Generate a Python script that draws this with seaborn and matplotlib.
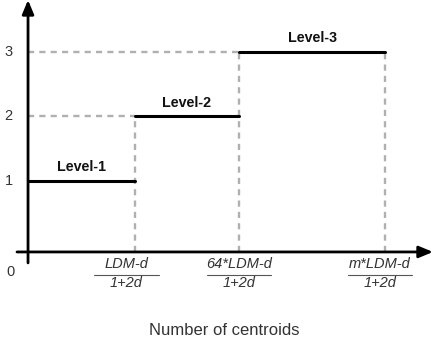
import numpy as np
import pandas as pd
import matplotlib
matplotlib.use("Agg")
import matplotlib.pyplot as plt
import seaborn as sns

# x breakpoints (origin + three thresholds) and the level of each step
breakpoints = [0, 1.0, 1.97, 3.34]
levels = [1, 2, 3]
level_names = ["Level-1", "Level-2", "Level-3"]
x_numerators = ["LDM-d", "64*LDM-d", "m*LDM-d"]
x_denominator = "1+2d"
x_label_nudge = [-0.08, 0.0, -0.05]
y_ticks = [0, 1, 2, 3]

sns.set_style("white")
plt.rcParams['font.family'] = ['Liberation Sans', 'DejaVu Sans']

fig = plt.figure(figsize=(4.38, 3.38), dpi=100)
ax = fig.add_axes([0, 0, 1, 1])
ax.set_xlim(-0.262, 3.832)
ax.set_ylim(-1.434, 3.806)
ax.axis("off")

axis_y = -0.1
guide = dict(color="#b0b0b0", lw=1.7, linestyle=(0, (2.6, 2.2)), zorder=1)

# dashed guide lines
for i, lev in enumerate(levels):
    x_start, x_end = breakpoints[i], breakpoints[i + 1]
    if i > 0:
        ax.plot([0, x_start], [lev, lev], **guide)
    top = levels[i + 1] if i + 1 < len(levels) else lev
    ax.plot([x_end, x_end], [axis_y, top], **guide)

# level segments
for i, lev in enumerate(levels):
    seg = pd.DataFrame({"x": [breakpoints[i], breakpoints[i + 1]], "y": [lev, lev]})
    sns.lineplot(data=seg, x="x", y="y", color="black", lw=2.2, ax=ax, zorder=3)
    ax.text((breakpoints[i] + breakpoints[i + 1]) / 2, lev + 0.21, level_names[i],
            ha="center", va="center", fontsize=10.3, fontweight="bold", color="#111111")

# axes with arrows
arrow = dict(arrowstyle="-|>,head_length=0.6,head_width=0.25", color="black",
             lw=2, mutation_scale=14, shrinkA=0, shrinkB=0)
ax.annotate("", xy=(3.785, axis_y), xytext=(-0.103, axis_y), arrowprops=arrow, zorder=4)
ax.annotate("", xy=(0, 3.806), xytext=(0, -0.27), arrowprops=arrow, zorder=4)

# y tick labels
for t in y_ticks:
    ty = t if t > 0 else -0.41
    tx = -0.18 if t > 0 else -0.165
    ax.text(tx, ty, str(t), ha="center", va="center", fontsize=10.5, color="#333333")

# x tick labels as fractions
for bx, num, nud in zip(breakpoints[1:], x_numerators, x_label_nudge):
    cx = bx + nud
    ax.text(cx, -0.287, num, ha="center", va="center", fontsize=10.5,
            style="italic", color="#333333")
    ax.text(cx, -0.585, x_denominator, ha="center", va="center", fontsize=10.5,
            style="italic", color="#333333")
    ax.plot([cx - 0.3, cx + 0.3], [-0.457, -0.457], color="#555555", lw=0.8)

fig.text(224 / 438, 0.0, "Number of centroids", ha="center", va="bottom",
         fontsize=12, color="#333333")

fig.savefig("out.png", dpi=100)
